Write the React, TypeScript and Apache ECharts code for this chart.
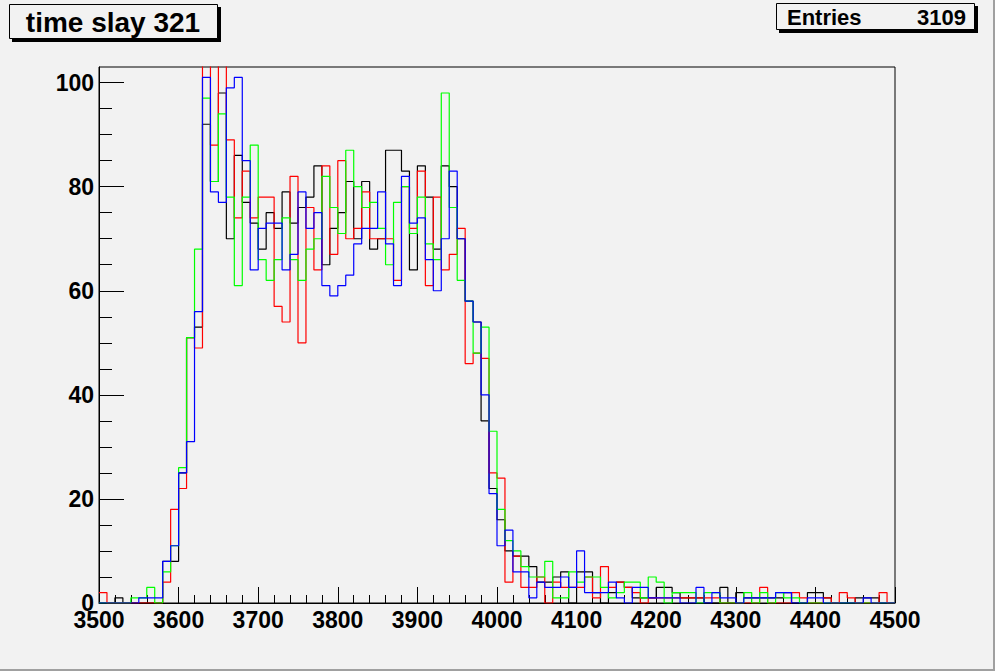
import React, { useEffect, useRef } from "react";
import * as echarts from "echarts";

const binStart = 3500;
const binWidth = 10;

// bin contents, 100 bins of width 10 from 3500 to 4500
const blackCounts = [
  0, 0, 1, 0, 0, 0, 0, 0, 8, 8,
  25, 51, 53, 92, 81, 98, 70, 86, 77, 73,
  68, 75, 72, 79, 73, 76, 78, 84, 65, 72,
  75, 81, 70, 81, 68, 70, 87, 87, 83, 64,
  84, 78, 68, 84, 80, 70, 58, 54, 35, 22,
  16, 10, 9, 9, 7, 4, 4, 5, 6, 0,
  6, 6, 2, 0, 2, 4, 3, 1, 1, 1,
  3, 3, 2, 1, 1, 1, 0, 0, 3, 0,
  2, 1, 1, 1, 1, 1, 2, 0, 0, 2,
  2, 1, 0, 0, 0, 1, 1, 1, 0, 0,
];
const redCounts = [
  2, 0, 0, 0, 0, 0, 0, 0, 4, 18,
  22, 51, 49, 108, 88, 105, 89, 74, 83, 74,
  78, 78, 57, 54, 82, 50, 76, 64, 84, 67,
  85, 70, 72, 79, 70, 70, 70, 62, 80, 72,
  83, 61, 78, 64, 67, 72, 46, 48, 47, 25,
  24, 4, 9, 3, 3, 5, 0, 4, 3, 3,
  3, 5, 1, 7, 3, 4, 3, 2, 0, 1,
  1, 1, 1, 1, 1, 1, 1, 1, 0, 0,
  0, 0, 0, 3, 0, 0, 0, 2, 1, 0,
  0, 1, 0, 2, 1, 0, 0, 0, 2, 0,
];
const greenCounts = [
  0, 0, 0, 0, 1, 1, 3, 0, 6, 11,
  26, 51, 68, 97, 81, 94, 78, 61, 78, 88,
  66, 62, 66, 74, 66, 62, 68, 70, 82, 76,
  71, 87, 80, 76, 77, 72, 65, 77, 80, 71,
  78, 69, 66, 98, 76, 62, 58, 48, 53, 33,
  18, 12, 10, 7, 5, 5, 8, 1, 1, 6,
  4, 5, 5, 3, 1, 2, 4, 4, 1, 5,
  4, 0, 2, 2, 2, 0, 2, 2, 0, 0,
  0, 2, 0, 2, 0, 2, 1, 1, 0, 0,
  0, 0, 0, 0, 0, 0, 0, 0, 0, 0,
];
const blueCounts = [
  0, 0, 0, 0, 0, 1, 1, 1, 8, 11,
  25, 31, 56, 101, 79, 77, 99, 101, 85, 64,
  72, 73, 73, 64, 67, 79, 72, 75, 61, 59,
  61, 63, 69, 72, 72, 79, 69, 61, 82, 73,
  74, 66, 60, 70, 83, 70, 58, 54, 40, 21,
  11, 14, 6, 6, 1, 4, 3, 3, 5, 3,
  10, 2, 2, 2, 4, 1, 0, 3, 3, 1,
  1, 1, 1, 0, 0, 3, 0, 2, 1, 1,
  0, 1, 1, 1, 1, 2, 2, 0, 0, 1,
  1, 0, 0, 0, 0, 0, 1, 0, 0, 0,
];

const xTickLabels = ["3500", "3600", "3700", "3800", "3900", "4000", "4100", "4200", "4300", "4400", "4500"];
const yMajorTicks = [0, 20, 40, 60, 80, 100];
const yMinorTicks = [5, 10, 15, 25, 30, 35, 45, 50, 55, 65, 70, 75, 85, 90, 95];
const titleText = "time slay 321";
const statsLabel = "Entries";
const statsValue = "3109";

const BG = "#f2f2f2";
const FONT = "'Liberation Sans', Arial, Helvetica, sans-serif";

function toSteps(vals: number[]) {
  const pts = vals.map((v, i) => [binStart + i * binWidth, v]);
  pts.push([binStart + vals.length * binWidth, vals[vals.length - 1]]);
  return pts;
}

export default function App() {
  const ref = useRef<HTMLDivElement>(null);
  useEffect(() => {
    if (!ref.current) return;
    const chart = echarts.init(ref.current, undefined, { renderer: "svg" });
    const hist = (name: string, vals: number[], color: string) => ({
      name,
      type: "line",
      step: "end",
      data: toSteps(vals),
      showSymbol: false,
      symbol: "none",
      clip: true,
      silent: true,
      lineStyle: { color, width: 1.2 },
      itemStyle: { color },
    });
    chart.setOption({
      animation: false,
      backgroundColor: BG,
      grid: {
        left: 99,
        top: 67,
        right: 100,
        bottom: 68,
        show: true,
        borderColor: "#000",
        borderWidth: 1,
        backgroundColor: "transparent",
      },
      xAxis: {
        type: "value",
        min: 3500,
        max: 4500,
        interval: 100,
        axisLine: { show: true, onZero: false, lineStyle: { color: "#000", width: 1 } },
        axisTick: { show: true, inside: true, length: 16, lineStyle: { color: "#000" } },
        minorTick: { show: true, splitNumber: 5, length: 8, lineStyle: { color: "#000" } },
        splitLine: { show: false },
        axisLabel: {
          color: "#000",
          fontFamily: FONT,
          fontWeight: "bold",
          fontSize: 23,
          margin: 5,
          formatter: (v: number) => xTickLabels.find((t) => Number(t) === v) ?? "",
        },
      },
      yAxis: [
        {
          type: "value",
          min: 0,
          max: 103,
          position: "left",
          axisLine: { show: true, onZero: false, lineStyle: { color: "#000", width: 1 } },
          axisTick: { show: true, inside: true, length: 25, customValues: yMajorTicks, lineStyle: { color: "#000" } },
          splitLine: { show: false },
          axisLabel: {
            color: "#000",
            fontFamily: FONT,
            fontWeight: "bold",
            fontSize: 23,
            margin: 5,
            customValues: yMajorTicks,
          },
        },
        {
          type: "value",
          min: 0,
          max: 103,
          position: "left",
          axisLine: { show: false },
          axisTick: { show: true, inside: true, length: 13, customValues: yMinorTicks, lineStyle: { color: "#000" } },
          splitLine: { show: false },
          axisLabel: { show: false },
        },
      ],
      series: [
        hist("black", blackCounts, "#000000"),
        hist("red", redCounts, "#ff0000"),
        hist("green", greenCounts, "#00ff00"),
        hist("blue", blueCounts, "#0000ff"),
      ],
      graphic: [
        // canvas bevel
        { type: "rect", shape: { x: 0, y: 669, width: 995, height: 2 }, style: { fill: "#a0a0a0" }, silent: true },
        { type: "rect", shape: { x: 993, y: 0, width: 2, height: 671 }, style: { fill: "#a0a0a0" }, silent: true },
        // title pave
        { type: "rect", shape: { x: 12, y: 7, width: 209, height: 35 }, style: { fill: "#000" }, silent: true },
        { type: "rect", shape: { x: 9.5, y: 4.5, width: 208, height: 34 }, style: { fill: BG, stroke: "#000", lineWidth: 1 }, silent: true },
        {
          type: "text",
          x: 113,
          y: 22,
          style: { text: titleText, fill: "#000", font: `bold 28px ${FONT}`, align: "center", verticalAlign: "middle" },
          silent: true,
        },
        // stats pave
        { type: "rect", shape: { x: 779, y: 6, width: 199, height: 27 }, style: { fill: "#000" }, silent: true },
        { type: "rect", shape: { x: 776.5, y: 3.5, width: 198, height: 26 }, style: { fill: BG, stroke: "#000", lineWidth: 1 }, silent: true },
        {
          type: "text",
          x: 787,
          y: 17,
          style: { text: statsLabel, fill: "#000", font: `bold 22px ${FONT}`, align: "left", verticalAlign: "middle" },
          silent: true,
        },
        {
          type: "text",
          x: 966,
          y: 17,
          style: { text: statsValue, fill: "#000", font: `bold 22px ${FONT}`, align: "right", verticalAlign: "middle" },
          silent: true,
        },
      ],
    });
    return () => chart.dispose();
  }, []);
  return (
    <div
      ref={ref}
      style={{ position: "fixed", left: 0, top: 0, width: 995, height: 671 }}
    />
  );
}
